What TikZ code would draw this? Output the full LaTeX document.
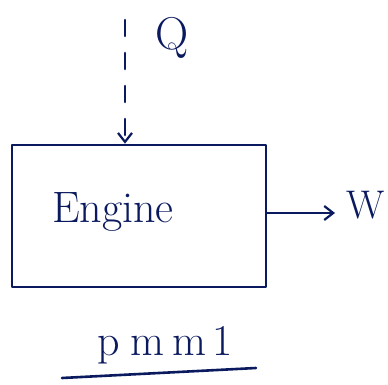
\documentclass[tikz,border=0pt]{standalone}
\usetikzlibrary{arrows.meta}
\definecolor{ink}{HTML}{0B1A5E}
\begin{document}
\begin{tikzpicture}[x=1pt,y=-1pt,
  every path/.style={draw=ink,line width=2.6pt,line cap=round,line join=round},
  lbl/.style={text=ink,inner sep=0pt,font=\fontsize{40}{44}\selectfont},
  tip/.style={-{Straight Barb[length=9pt,width=14pt,line width=2.2pt]}}]
\useasboundingbox[draw=none] (0,0) rectangle (388,385);
\node[draw=ink,line width=2.6pt,minimum width=254pt,minimum height=142pt,inner sep=0pt] (eng) at (139,216) {};
\node[lbl,font=\fontsize{44}{48}\selectfont] (engt) at (113,212) {Engine};
\coordinate (qs) at (125,20);
\draw[tip,dash pattern=on 16pt off 17pt] (qs) -- (eng.north -| qs);
\node[lbl,font=\fontsize{46}{50}\selectfont] (q) at (172,38) {Q};
\coordinate (wend) at (335,213);
\draw[tip] (eng.east |- wend) -- (wend);
\node[lbl] (w) at (366,205) {W};
\node[lbl,font=\fontsize{44}{48}\selectfont] (pmm) at (165,345) {p\hspace{10pt}m\hspace{8pt}m\hspace{6pt}1};
\coordinate (ua) at (62,378);
\coordinate (ub) at (256,368);
\draw (ua) -- (ub);
\end{tikzpicture}
\end{document}
